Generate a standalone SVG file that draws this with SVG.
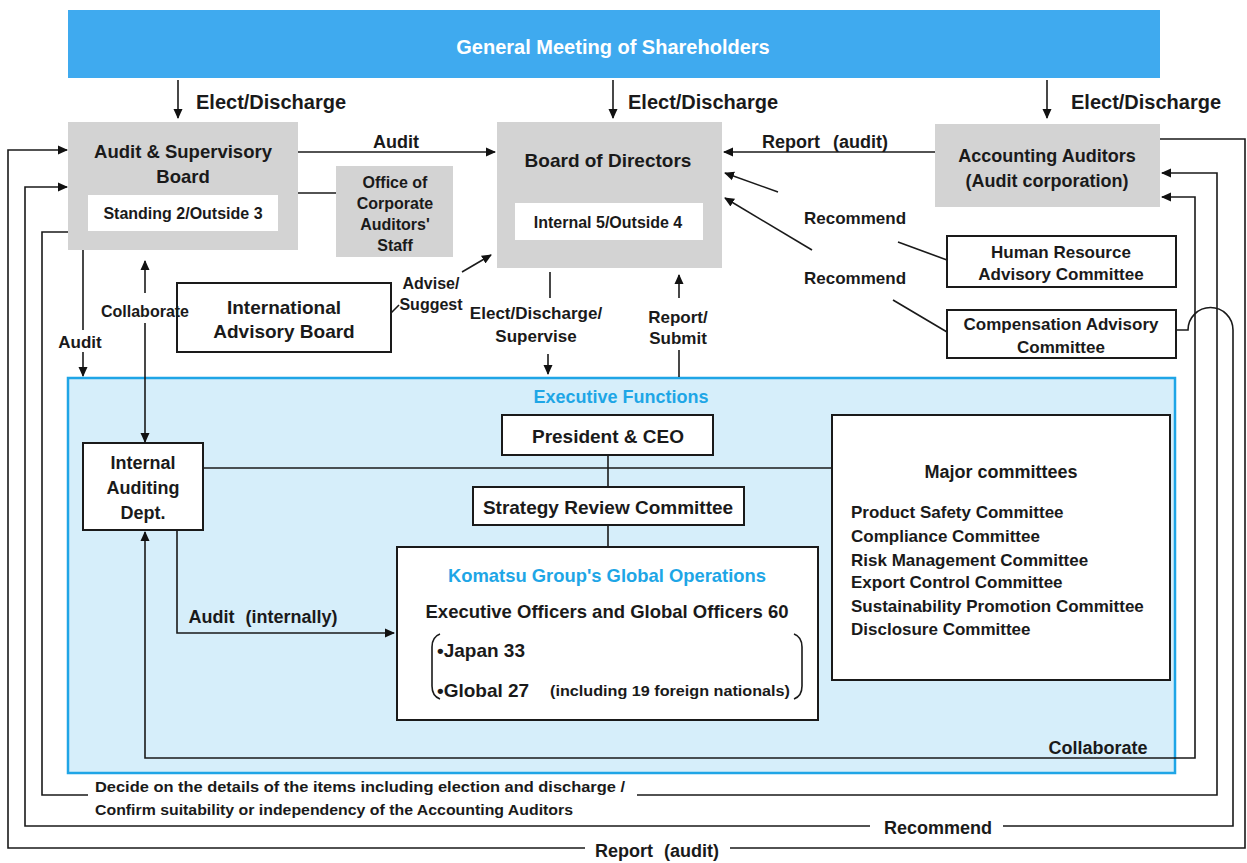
<svg xmlns="http://www.w3.org/2000/svg" width="1247" height="863" viewBox="0 0 1247 863">
<defs>
<marker id="arr" markerUnits="userSpaceOnUse" markerWidth="10" markerHeight="10" refX="9" refY="5" orient="auto-start-reverse" viewBox="0 0 10 10">
<path d="M0,0.5 L10,5 L0,9.5 z" fill="#111"/>
</marker>
<style>
text{font-family:"Liberation Sans",Arial,sans-serif;font-weight:bold;fill:#1a1a1a}
.c{text-anchor:middle}
.gray{fill:#d3d3d3}
.wbox{fill:#fff;stroke:#1a1a1a;stroke-width:2}
.inner{fill:#fff}
.ln{fill:none;stroke:#1a1a1a;stroke-width:1.6}
.ar{marker-end:url(#arr)}
.f19{font-size:19px}
.f18{font-size:18px}
.f17{font-size:17px}
.f16{font-size:16px}
.blue{fill:#1ea6e6}
</style>
</defs>
<rect width="1247" height="863" fill="#fff"/>

<g id="shareholders">
<rect x="68" y="10" width="1092" height="68" fill="#3faaef"/>
<text x="613" y="54" class="c" style="font-size:20px;fill:#fff">General Meeting of Shareholders</text>
</g>

<g id="executive-functions">
<rect x="68" y="378" width="1107" height="395" fill="#d6eefa" stroke="#1fa5e6" stroke-width="2.5"/>
<text x="621" y="403" class="c f18 blue">Executive Functions</text>
</g>

<g id="audit-board">
<rect x="68" y="122" width="230" height="128" class="gray"/>
<text x="183" y="158" class="c" style="font-size:18.5px">Audit &amp; Supervisory</text>
<text x="183" y="183" class="c" style="font-size:18.5px">Board</text>
<rect x="88" y="195" width="190" height="36" class="inner"/>
<text x="183" y="219" class="c f16">Standing 2/Outside 3</text>
</g>

<g id="office-staff">
<rect x="336" y="166" width="117" height="91" class="gray"/>
<text x="395" y="188" class="c f16">Office of</text>
<text x="395" y="209" class="c f16">Corporate</text>
<text x="395" y="230" class="c f16">Auditors'</text>
<text x="395" y="251" class="c f16">Staff</text>
</g>

<g id="board-of-directors">
<rect x="497" y="122" width="225" height="146" class="gray"/>
<text x="608" y="167" class="c f19">Board of Directors</text>
<rect x="515" y="203" width="188" height="37" class="inner"/>
<text x="608" y="228" class="c f16">Internal 5/Outside 4</text>
</g>

<g id="accounting-auditors">
<rect x="935" y="124" width="225" height="83" class="gray"/>
<text x="1047" y="162" class="c f18">Accounting Auditors</text>
<text x="1047" y="187" class="c f18">(Audit corporation)</text>
</g>

<g id="hr-committee">
<rect x="947" y="236" width="229" height="51" class="wbox"/>
<text x="1061" y="258" class="c f17">Human Resource</text>
<text x="1061" y="280" class="c f17">Advisory Committee</text>
</g>

<g id="comp-committee">
<rect x="947" y="310" width="229" height="48" class="wbox"/>
<text x="1061" y="330" class="c f17">Compensation Advisory</text>
<text x="1061" y="353" class="c f17">Committee</text>
</g>

<g id="intl-advisory">
<rect x="177" y="283" width="214" height="69" class="wbox"/>
<text x="284" y="314" class="c f19">International</text>
<text x="284" y="338" class="c f19">Advisory Board</text>
</g>

<g id="internal-auditing">
<rect x="83" y="443" width="120" height="87" class="wbox"/>
<text x="143" y="469" class="c f18">Internal</text>
<text x="143" y="494" class="c f18">Auditing</text>
<text x="143" y="519" class="c f18">Dept.</text>
</g>

<g id="connectors">
<path class="ln ar" d="M178,80 V118"/>
<path class="ln ar" d="M613,80 V118"/>
<path class="ln ar" d="M1047,80 V118"/>
<path class="ln ar" d="M298,152 H495"/>
<path class="ln ar" d="M935,152 H724"/>
<path class="ln" d="M947,260 L898,242"/>
<path class="ln ar" d="M778,192 L725,173"/>
<path class="ln" d="M947,332 L893,300"/>
<path class="ln ar" d="M812,250 L725,198"/>
<path class="ln" d="M391,313 L399,305"/>
<path class="ln ar" d="M462,272 L491,255"/>
<path class="ln" d="M550,272 V298"/>
<path class="ln ar" d="M548,354 V374"/>
<path class="ln ar" d="M679,298 V275"/>
<path class="ln" d="M679,350 V377"/>
<path class="ln ar" d="M145,293 V261"/>
<path class="ln ar" d="M145,323 V442"/>
<path class="ln" d="M83,250 V330"/>
<path class="ln ar" d="M83,352 V376"/>
<path class="ln" d="M298,193 H336"/>
<path class="ln" d="M203,468 H832"/>
<path class="ln" d="M608,455 V547"/>
<path class="ln ar" d="M177,530 V633 H394"/>
<path class="ln" d="M1162,197 H1195 V758 H145 V532" style="marker-start:url(#arr);marker-end:url(#arr)"/>
<path class="ln" d="M68,232 H42 V795 H88"/>
<path class="ln ar" d="M637,795 H1217 V173 H1162"/>
<path class="ln" d="M1176,330 H1188 A22.5,22.5 0 0 1 1233,330 V826 H1003"/>
<path class="ln ar" d="M870,826 H25 V187 H67"/>
<path class="ln" d="M1160,139 H1245 V848 H730"/>
<path class="ln ar" d="M585,848 H8 V150 H67"/>
</g>

<g id="president">
<rect x="502" y="415" width="211" height="40" class="wbox"/>
<text x="608" y="443" class="c f19">President &amp; CEO</text>
</g>

<g id="strategy">
<rect x="473" y="487" width="271" height="38" class="wbox"/>
<text x="608" y="514" class="c f19">Strategy Review Committee</text>
</g>

<g id="global-ops">
<rect x="397" y="547" width="421" height="173" class="wbox"/>
<text x="607" y="582" class="c blue" style="font-size:18.4px">Komatsu Group's Global Operations</text>
<text x="607" y="618" class="c" style="font-size:18.5px">Executive Officers and Global Officers 60</text>
<path class="ln" d="M440,634 Q432,637 432,647 V686 Q432,696 440,699"/>
<path class="ln" d="M794,634 Q802,637 802,647 V686 Q802,696 794,699"/>
<text x="437" y="657" style="font-size:19px">•Japan 33</text>
<text x="437" y="697" style="font-size:19px">•Global 27</text>
<text x="550" y="696" style="font-size:14px" textLength="240" lengthAdjust="spacingAndGlyphs">(including 19 foreign nationals)</text>
</g>

<g id="major-committees">
<rect x="832" y="415" width="338" height="265" class="wbox"/>
<text x="1001" y="478" class="c f18">Major committees</text>
<text x="851" y="518" class="f17">Product Safety Committee</text>
<text x="851" y="542" class="f17">Compliance Committee</text>
<text x="851" y="566" class="f17">Risk Management Committee</text>
<text x="851" y="588" class="f17">Export Control Committee</text>
<text x="851" y="612" class="f17">Sustainability Promotion Committee</text>
<text x="851" y="635" class="f17">Disclosure Committee</text>
</g>

<g id="labels">
<text x="196" y="109" style="font-size:20px">Elect/Discharge</text>
<text x="628" y="109" style="font-size:20px">Elect/Discharge</text>
<text x="1071" y="109" style="font-size:20px">Elect/Discharge</text>
<text x="396" y="148" class="c f18">Audit</text>
<text x="825" y="148" class="c f18" style="word-spacing:8px">Report (audit)</text>
<text x="855" y="224" class="c f17">Recommend</text>
<text x="855" y="284" class="c f17">Recommend</text>
<text x="431" y="289" class="c f16">Advise/</text>
<text x="431" y="310" class="c f16">Suggest</text>
<text x="536" y="319" class="c f17">Elect/Discharge/</text>
<text x="536" y="342" class="c f17">Supervise</text>
<text x="678" y="323" class="c f17">Report/</text>
<text x="678" y="344" class="c f17">Submit</text>
<text x="145" y="317" class="c f16">Collaborate</text>
<text x="80" y="348" class="c f17">Audit</text>
<text x="263" y="623" class="c f18" style="word-spacing:6px">Audit (internally)</text>
<text x="1098" y="754" class="c f18">Collaborate</text>
<text x="95" y="792" style="font-size:15px" textLength="530" lengthAdjust="spacingAndGlyphs">Decide on the details of the items including election and discharge /</text>
<text x="95" y="815" style="font-size:15px" textLength="478" lengthAdjust="spacingAndGlyphs">Confirm suitability or independency of the Accounting Auditors</text>
<text x="938" y="834" class="c f18">Recommend</text>
<text x="657" y="857" class="c f18" style="word-spacing:6px">Report (audit)</text>
</g>
</svg>
